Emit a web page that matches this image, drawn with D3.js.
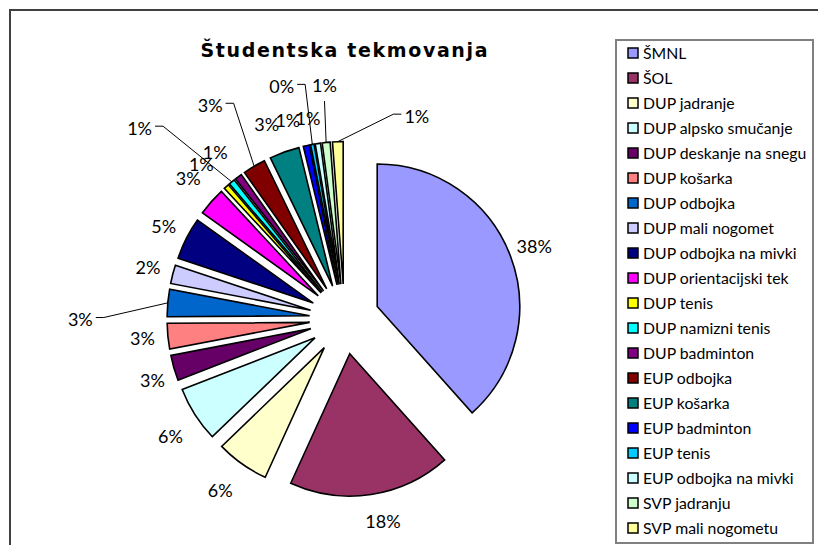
<!DOCTYPE html>
<html>
<head>
<meta charset="utf-8">
<script src="https://cdn.jsdelivr.net/npm/d3@7"></script>
<style>
body { margin: 0; background: #fff; }
text { font-family: Lato, sans-serif; fill: #000; }
</style>
</head>
<body>
<div class="svg-container"></div>
<script>
// chart data (share of all events, %)
var categories = ["ŠMNL", "ŠOL", "DUP jadranje", "DUP alpsko smučanje", "DUP deskanje na snegu",
	"DUP košarka", "DUP odbojka", "DUP mali nogomet", "DUP odbojka na mivki", "DUP orientacijski tek",
	"DUP tenis", "DUP namizni tenis", "DUP badminton", "EUP odbojka", "EUP košarka",
	"EUP badminton", "EUP tenis", "EUP odbojka na mivki", "SVP jadranju", "SVP mali nogometu"];
var values = [38.4, 18.4, 6.0, 6.3, 2.9, 2.9, 3.1, 2.1, 4.8, 3.2,
	0.6, 0.7, 0.8, 2.6, 3.4, 0.7, 0.4, 0.6, 0.9, 1.2];
var colors = ["#9999ff", "#993366", "#ffffcc", "#ccffff", "#660066", "#ff8080", "#0066cc", "#ccccff",
	"#000080", "#ff00ff", "#ffff00", "#00ffff", "#800080", "#800000", "#008080", "#0000ff",
	"#00ccff", "#ccffff", "#ccffcc", "#ffff99"];
var title = "Študentska tekmovanja";

var pageWidth = 818,
	pageHeight = 545;

var center = { x: 344.5, y: 319 },
	radius = 142.5,
	explode = 35,
	labelRadius = 203;

// labels Excel moved by hand (dx, dy from the default spot); some get a leader line
var labelNudge = {
	1: [8, 2], 2: [-7, 6], 3: [-3, 8], 4: [3, 5], 6: [-62, 19],
	9: [-4, -6], 10: [-8, -3], 11: [-76, -34], 12: [-8, -4], 13: [-31, -39],
	14: [-9, -3], 15: [-13, 0], 16: [-26, -33], 17: [-6, 0], 18: [1, -32], 19: [80, 0]
};
var leaders = [6, 11, 13, 16, 18, 19];

function plot() {
	var svg = d3.select(".svg-container")
		.append("svg")
		.attr("width", pageWidth)
		.attr("height", pageHeight);

	// chart frame (runs past the right and bottom edge)
	svg.append("rect")
		.attr("x", 10).attr("y", 10)
		.attr("width", 830).attr("height", 560)
		.attr("fill", "#fff")
		.attr("stroke", "#404040")
		.attr("stroke-width", 2);

	svg.append("text")
		.attr("x", 344)
		.attr("y", 57)
		.attr("text-anchor", "middle")
		.style("font-family", "'DejaVu Sans', sans-serif")
		.style("font-weight", "bold")
		.style("font-size", "19px")
		.attr("textLength", 287)
		.attr("lengthAdjust", "spacing")
		.text(title);

	drawPie(svg);
	drawLegend(svg);
}

function dir(a) {
	return [Math.sin(a), -Math.cos(a)];
}

function drawPie(svg) {
	var total = d3.sum(values);
	var pie = d3.pie().sort(null).value(function(d) { return d; });
	var arcs = pie(values);
	var arc = d3.arc().innerRadius(0).outerRadius(radius);
	var fmt = d3.format(".0%");

	var g = svg.append("g")
		.attr("transform", "translate(" + center.x + "," + center.y + ")");

	g.selectAll(".slice").data(arcs)
		.enter()
		.append("path")
		.attr("class", "slice")
		.attr("transform", function(d) {
			var m = dir((d.startAngle + d.endAngle) / 2);
			return "translate(" + m[0] * explode + "," + m[1] * explode + ")";
		})
		.attr("d", arc)
		.attr("fill", function(d, i) { return colors[i]; })
		.attr("stroke", "#000")
		.attr("stroke-width", 1.6)
		.attr("stroke-linejoin", "miter");

	arcs.forEach(function(d, i) {
		var m = dir((d.startAngle + d.endAngle) / 2);
		var nudge = labelNudge[i] || [0, 0];
		var lx = m[0] * labelRadius + nudge[0],
			ly = m[1] * labelRadius + nudge[1];

		var t = g.append("text")
			.attr("x", lx)
			.attr("y", ly)
			.attr("dy", "0.36em")
			.attr("text-anchor", "middle")
			.attr("font-size", "18px")
			.text(fmt(d.value / total));

		if (leaders.indexOf(i) >= 0) {
			var w = t.node().getComputedTextLength();
			var tx = m[0] * (radius + explode),
				ty = m[1] * (radius + explode);
			var pts;
			if (Math.abs(tx - lx) < 12) {
				pts = [[lx, ly + 16], [tx, ty]];
			} else {
				var side = tx > lx ? 1 : -1;
				var sx = lx + side * (w / 2 + 3);
				pts = [[sx, ly - 2], [sx + side * 8, ly - 2], [tx, ty]];
			}
			g.append("path")
				.attr("d", d3.line()(pts))
				.attr("fill", "none")
				.attr("stroke", "#000")
				.attr("stroke-width", 1);
		}
	});
}

function drawLegend(svg) {
	var box = { x: 616, y: 40, w: 197, h: 503 },
		rowStart = 53,
		rowStep = 25;

	svg.append("rect")
		.attr("x", box.x).attr("y", box.y)
		.attr("width", box.w).attr("height", box.h)
		.attr("fill", "#fff")
		.attr("stroke", "#808080")
		.attr("stroke-width", 2);

	var rows = svg.selectAll(".legend-row").data(categories)
		.enter()
		.append("g")
		.attr("class", "legend-row")
		.attr("transform", function(d, i) {
			return "translate(628," + (rowStart + i * rowStep) + ")";
		});

	rows.append("rect")
		.attr("x", 0).attr("y", -5)
		.attr("width", 10).attr("height", 10)
		.attr("fill", function(d, i) { return colors[i]; })
		.attr("stroke", "#000")
		.attr("stroke-width", 1.5);

	rows.append("text")
		.attr("x", 15)
		.attr("y", 0)
		.attr("dy", "0.36em")
		.attr("font-size", "15.8px")
		.text(function(d) { return d; });
}

plot();
</script>
</body>
</html>
